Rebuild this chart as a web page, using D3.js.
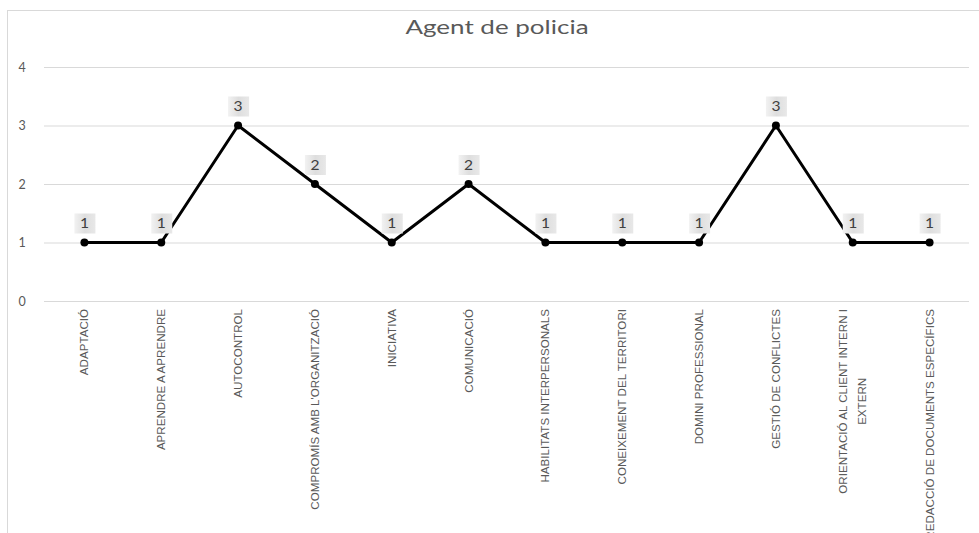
<!DOCTYPE html>
<html>
<head>
<meta charset="utf-8">
<script src="https://cdn.jsdelivr.net/npm/d3@7"></script>
<style>
  body { margin: 0; background: #fff; }
  svg { display: block; }
</style>
</head>
<body>
<div id="chart"></div>
<script>
const categories = [
  'ADAPTACIÓ', 'APRENDRE A APRENDRE', 'AUTOCONTROL', "COMPROMÍS AMB L'ORGANITZACIÓ",
  'INICIATIVA', 'COMUNICACIÓ', 'HABILITATS INTERPERSONALS', 'CONEIXEMENT DEL TERRITORI',
  'DOMINI PROFESSIONAL', 'GESTIÓ DE CONFLICTES', 'ORIENTACIÓ AL CLIENT INTERN I|EXTERN',
  'REDACCIÓ DE DOCUMENTS ESPECÍFICS'
];
const values = [1, 1, 3, 2, 1, 2, 1, 1, 1, 3, 1, 1];
const yTicks = [0, 1, 2, 3, 4];
const title = 'Agent de policia';

const W = 979, H = 533;
const margin = { top: 67, right: 11, bottom: 232, left: 46 };

const svg = d3.select('#chart').append('svg')
  .attr('width', W).attr('height', H);

// chart frame
svg.append('rect')
  .attr('x', 7.5).attr('y', 10.5)
  .attr('width', W + 10).attr('height', H + 10)
  .attr('fill', 'none').attr('stroke', '#d9d9d9');

// title (source rendering is stretched horizontally)
svg.append('text')
  .attr('transform', 'translate(497,34) scale(1.3,1)')
  .attr('text-anchor', 'middle')
  .attr('font-family', 'Lato, sans-serif')
  .attr('font-size', '20px')
  .attr('fill', '#595959')
  .text(title);

const x = d3.scaleBand()
  .domain(categories)
  .range([margin.left, W - margin.right]);

const y = d3.scaleLinear()
  .domain([0, 4])
  .range([H - margin.bottom, margin.top]);

const g = svg.append('g');

// gridlines + y labels
g.append('g')
  .call(d3.axisLeft(y).tickValues(yTicks).tickFormat(d3.format('d'))
    .tickSize(-(W - margin.right - margin.left + 3)))
  .attr('transform', `translate(${margin.left - 2},0)`)
  .call(ax => ax.select('.domain').remove())
  .call(ax => ax.selectAll('line').attr('stroke', '#d9d9d9'))
  .call(ax => ax.selectAll('text')
    .attr('x', -22)
    .attr('text-anchor', 'middle')
    .attr('font-family', 'Lato, sans-serif')
    .attr('font-size', '12.5px')
    .attr('fill', '#595959'));

const cx = d => x(d) + x.bandwidth() / 2;
const pts = categories.map((c, i) => ({ c, v: values[i] }));

// line
g.append('path')
  .datum(pts)
  .attr('fill', 'none')
  .attr('stroke', '#000')
  .attr('stroke-width', 3)
  .attr('stroke-linejoin', 'round')
  .attr('d', d3.line().x(d => cx(d.c)).y(d => y(d.v)));

// markers
g.selectAll('circle.pt')
  .data(pts)
  .join('circle')
  .attr('class', 'pt')
  .attr('cx', d => cx(d.c))
  .attr('cy', d => y(d.v))
  .attr('r', 4)
  .attr('fill', '#000');

// data label boxes
const grad = svg.append('defs').append('linearGradient')
  .attr('id', 'lblg').attr('x1', 0).attr('x2', 1).attr('y1', 0).attr('y2', 0);
grad.append('stop').attr('offset', 0).attr('stop-color', '#f2f2f2');
grad.append('stop').attr('offset', 0.5).attr('stop-color', '#dedede');
grad.append('stop').attr('offset', 1).attr('stop-color', '#e8e8e8');

const lbl = g.selectAll('g.lbl')
  .data(pts)
  .join('g')
  .attr('class', 'lbl')
  .attr('transform', d => `translate(${cx(d.c)},${y(d.v) - 19})`);

lbl.append('rect')
  .attr('x', -10).attr('y', -10)
  .attr('width', 21).attr('height', 20)
  .attr('fill', 'url(#lblg)');

lbl.append('text')
  .attr('text-anchor', 'middle')
  .attr('dy', '0.35em')
  .attr('transform', 'scale(1.2,1)')
  .attr('font-family', 'Lato, sans-serif')
  .attr('font-size', '13px')
  .attr('fill', '#404040')
  .text(d => d.v);

// rotated category labels
const xl = g.selectAll('text.xl')
  .data(categories)
  .join('text')
  .attr('class', 'xl')
  .attr('transform', d => `translate(${cx(d)},${H - margin.bottom + 8}) rotate(-90)`)
  .attr('font-family', '"Liberation Sans Narrow", "Arial Narrow", sans-serif')
  .attr('font-size', '11.6px')
  .attr('fill', '#595959');

xl.each(function (d) {
  const lines = d.split('|');
  const t = d3.select(this);
  if (lines.length === 1) {
    t.attr('text-anchor', 'end').attr('dy', '0.35em').text(d);
    return;
  }
  // multi-line: block top-aligned to the axis, lines centred inside it
  const widths = lines.map(l => {
    const s = t.append('tspan').text(l);
    const w = s.node().getComputedTextLength();
    s.remove();
    return w;
  });
  const maxW = d3.max(widths);
  const lh = 19;
  lines.forEach((l, i) => {
    t.append('tspan')
      .attr('x', -maxW / 2)
      .attr('y', (i - (lines.length - 1) / 2) * lh)
      .attr('dy', '0.35em')
      .attr('text-anchor', 'middle')
      .text(l);
  });
});
</script>
</body>
</html>
